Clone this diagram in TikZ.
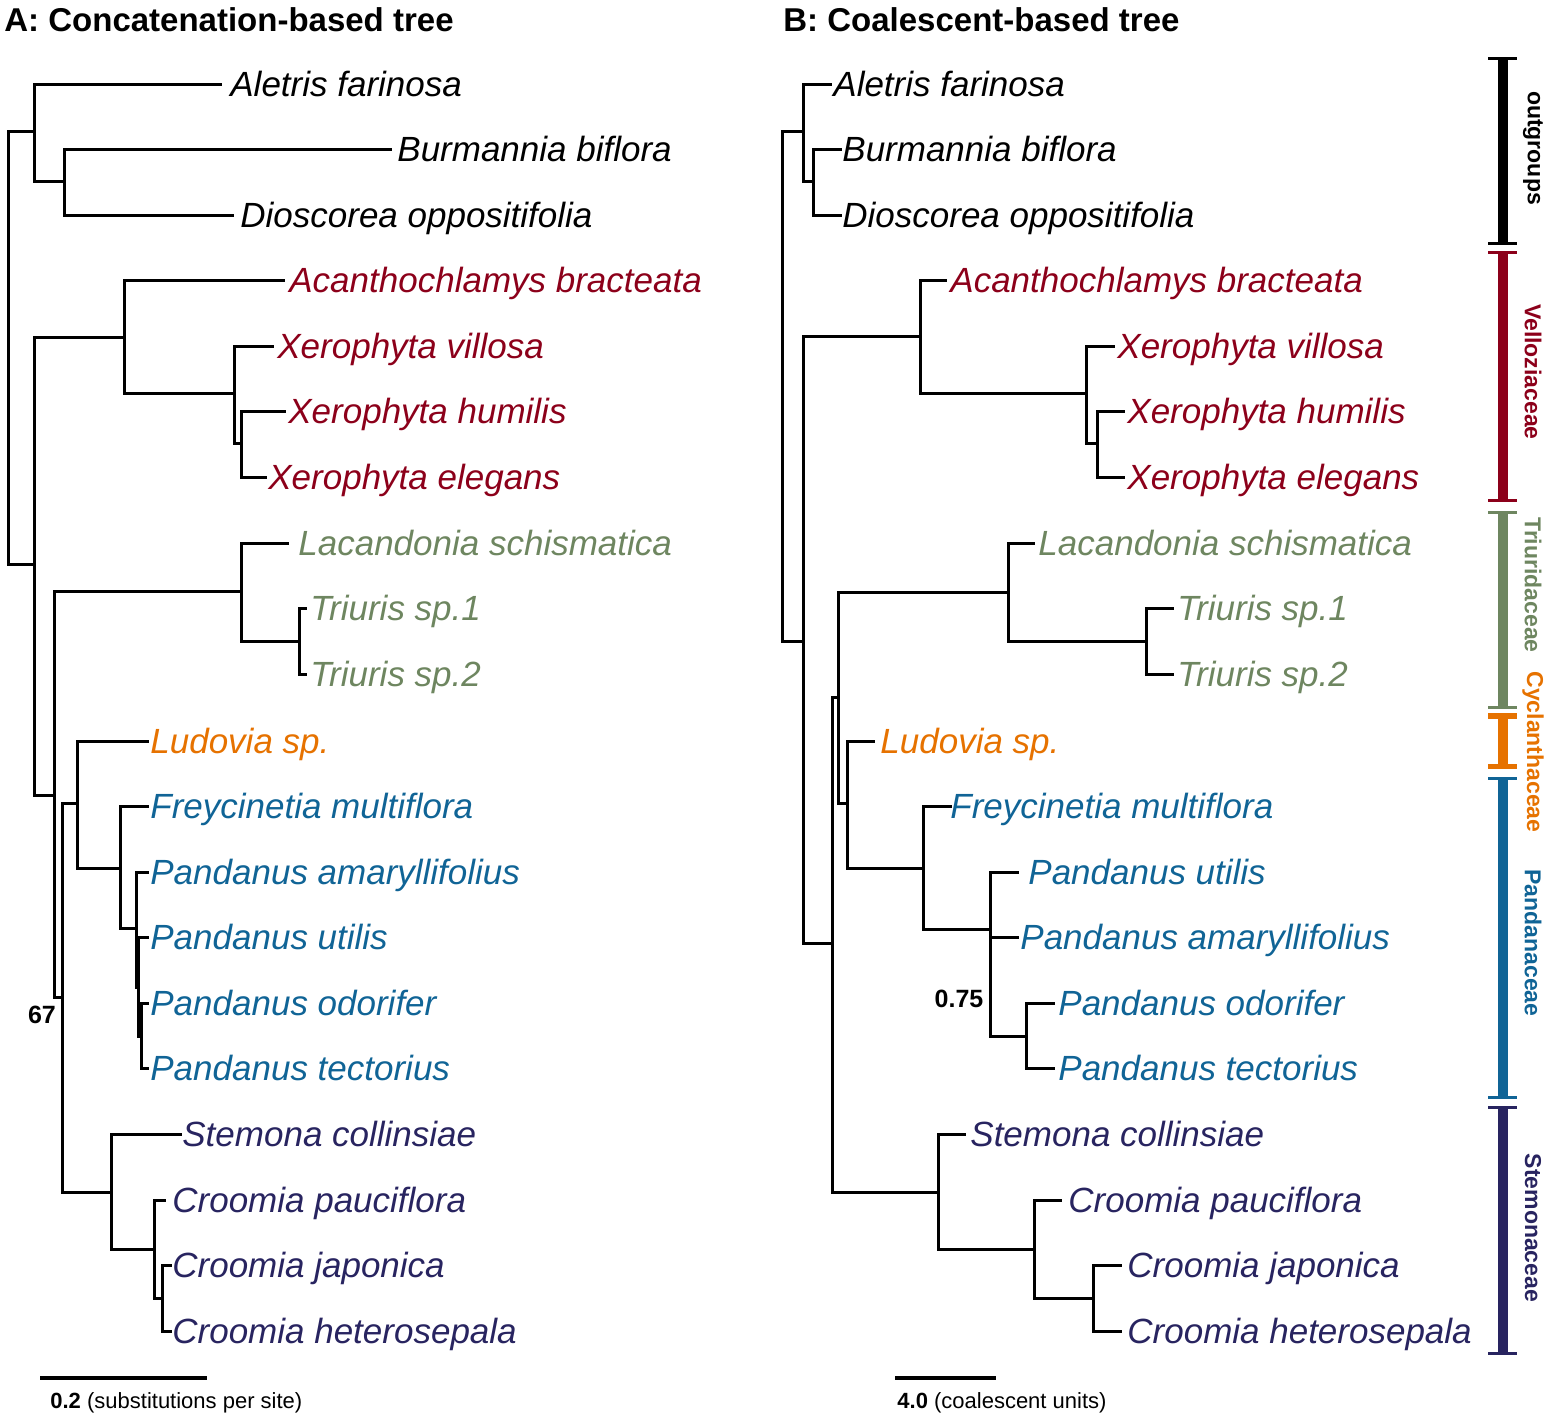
\documentclass[tikz,border=0pt]{standalone}
\usepackage{fontspec}
\setmainfont{Liberation Sans}
\definecolor{vel}{RGB}{140,0,26}
\definecolor{tri}{RGB}{110,134,96}
\definecolor{cyc}{RGB}{230,114,0}
\definecolor{pan}{RGB}{16,100,150}
\definecolor{ste}{RGB}{40,36,96}
\begin{document}
\begin{tikzpicture}[x=0.5pt,y=-0.5pt,
  br/.style={line width=1.5pt,line cap=rect,line join=miter},
  lf/.style={anchor=base west,inner sep=0pt,font=\fontsize{17.5}{20}\selectfont\itshape},
  ttl/.style={anchor=base west,inner sep=0pt,font=\fontsize{16.5}{19}\selectfont\bfseries},
  sup/.style={inner sep=0pt,font=\fontsize{12.5}{14}\selectfont\bfseries},
  fam/.style={rotate=-90,inner sep=0pt,font=\fontsize{11.5}{13}\selectfont\bfseries},
  fbar/.style={line width=5pt},
  fcap/.style={line width=1.5pt},
  sbar/.style={line width=2pt},
  stxt/.style={anchor=base west,inner sep=0pt,font=\fontsize{11}{13}\selectfont}]
\useasboundingbox (0,0) rectangle (1552,1416);

% titles
\node[ttl] (tA) at (4,32) {A: Concatenation-based tree};
\node[ttl] (tB) at (783,32) {B: Coalescent-based tree};

% ---------------- Tree A ----------------
\coordinate (Ar) at (8,348);
\coordinate (Ao) at (34,132);
\coordinate (Abd) at (64,182);
\coordinate (Ai) at (34,565);
\coordinate (Av) at (124,338);
\coordinate (Ax) at (234,394);
\coordinate (Axhe) at (241,444);
\coordinate (Ar1) at (54,795);
\coordinate (At) at (241,592);
\coordinate (Att) at (299,642);
\coordinate (Ar2) at (62,997);
\coordinate (Acp) at (77,803);
\coordinate (Ap) at (120,868);
\coordinate (App) at (136,928);
\coordinate (Ap2) at (138,987);
\coordinate (Ap3) at (141,1036);
\coordinate (As) at (111,1192);
\coordinate (Ac) at (154,1249);
\coordinate (Acjh) at (162,1298);

\coordinate (A1) at (220,85);
\coordinate (A2) at (390,150);
\coordinate (A3) at (232,216);
\coordinate (A4) at (283,281);
\coordinate (A5) at (272,347);
\coordinate (A6) at (284,412);
\coordinate (A7) at (265,478);
\coordinate (A8) at (287,544);
\coordinate (A9) at (305,609);
\coordinate (A10) at (305,675);
\coordinate (A11) at (147,741);
\coordinate (A12) at (147,806);
\coordinate (A13) at (147,872);
\coordinate (A14) at (147,937);
\coordinate (A15) at (147,1003);
\coordinate (A16) at (147,1068);
\coordinate (A17) at (180,1134);
\coordinate (A18) at (164,1200);
\coordinate (A19) at (170,1265);
\coordinate (A20) at (170,1331);

\draw[br] (Ar) |- (Ao);   \draw[br] (Ar) |- (Ai);
\draw[br] (Ao) |- (A1);   \draw[br] (Ao) |- (Abd);
\draw[br] (Abd) |- (A2);  \draw[br] (Abd) |- (A3);
\draw[br] (Ai) |- (Av);   \draw[br] (Ai) |- (Ar1);
\draw[br] (Av) |- (A4);   \draw[br] (Av) |- (Ax);
\draw[br] (Ax) |- (A5);   \draw[br] (Ax) |- (Axhe);
\draw[br] (Axhe) |- (A6); \draw[br] (Axhe) |- (A7);
\draw[br] (Ar1) |- (At);  \draw[br] (Ar1) |- (Ar2);
\draw[br] (At) |- (A8);   \draw[br] (At) |- (Att);
\draw[br] (Att) |- (A9);  \draw[br] (Att) |- (A10);
\draw[br] (Ar2) |- (Acp); \draw[br] (Ar2) |- (As);
\draw[br] (Acp) |- (A11); \draw[br] (Acp) |- (Ap);
\draw[br] (Ap) |- (A12);  \draw[br] (Ap) |- (App);
\draw[br] (App) |- (A13); \draw[br] (App) |- (Ap2);
\draw[br] (Ap2) |- (A14); \draw[br] (Ap2) |- (Ap3);
\draw[br] (Ap3) |- (A15); \draw[br] (Ap3) |- (A16);
\draw[br] (As) |- (A17);  \draw[br] (As) |- (Ac);
\draw[br] (Ac) |- (A18);  \draw[br] (Ac) |- (Acjh);
\draw[br] (Acjh) |- (A19);\draw[br] (Acjh) |- (A20);

\node[lf] (LA1) at (230,97) {Aletris farinosa};
\node[lf] (LA2) at (397,162) {Burmannia biflora};
\node[lf] (LA3) at (240,228) {Dioscorea oppositifolia};
\node[lf,text=vel] (LA4) at (289,293) {Acanthochlamys bracteata};
\node[lf,text=vel] (LA5) at (277,359) {Xerophyta villosa};
\node[lf,text=vel] (LA6) at (288,424) {Xerophyta humilis};
\node[lf,text=vel] (LA7) at (268,490) {Xerophyta elegans};
\node[lf,text=tri] (LA8) at (298,556) {Lacandonia schismatica};
\node[lf,text=tri] (LA9) at (310,621) {Triuris sp.1};
\node[lf,text=tri] (LA10) at (310,687) {Triuris sp.2};
\node[lf,text=cyc] (LA11) at (150,753) {Ludovia sp.};
\node[lf,text=pan] (LA12) at (150,818) {Freycinetia multiflora};
\node[lf,text=pan] (LA13) at (150,884) {Pandanus amaryllifolius};
\node[lf,text=pan] (LA14) at (150,949) {Pandanus utilis};
\node[lf,text=pan] (LA15) at (150,1015) {Pandanus odorifer};
\node[lf,text=pan] (LA16) at (150,1080) {Pandanus tectorius};
\node[lf,text=ste] (LA17) at (182,1146) {Stemona collinsiae};
\node[lf,text=ste] (LA18) at (172,1212) {Croomia pauciflora};
\node[lf,text=ste] (LA19) at (172,1277) {Croomia japonica};
\node[lf,text=ste] (LA20) at (172,1343) {Croomia heterosepala};

\node[sup] (s67) at (42,1015) {67};

% ---------------- Tree B ----------------
\coordinate (Br) at (782,387);
\coordinate (Bo) at (803,132);
\coordinate (Bbd) at (813,182);
\coordinate (Bi) at (803,642);
\coordinate (Bv) at (920,337);
\coordinate (Bx) at (1086,394);
\coordinate (Bxhe) at (1097,444);
\coordinate (Br1) at (832,943);
\coordinate (Br2) at (838,698);
\coordinate (Bt) at (1008,593);
\coordinate (Btt) at (1146,642);
\coordinate (Bcp) at (847,803);
\coordinate (Bp) at (923,868);
\coordinate (Bpp) at (990,929);
\coordinate (Bot) at (1026,1036);
\coordinate (Bs) at (938,1192);
\coordinate (Bc) at (1034,1249);
\coordinate (Bcjh) at (1093,1298);

\coordinate (B1) at (830,85);
\coordinate (B2) at (840,150);
\coordinate (B3) at (840,216);
\coordinate (B4) at (945,281);
\coordinate (B5) at (1113,347);
\coordinate (B6) at (1123,412);
\coordinate (B7) at (1123,478);
\coordinate (B8) at (1033,544);
\coordinate (B9) at (1172,609);
\coordinate (B10) at (1172,675);
\coordinate (B11) at (873,741);
\coordinate (B12) at (950,806);
\coordinate (B13) at (1017,872);
\coordinate (B14) at (1017,937);
\coordinate (B15) at (1053,1003);
\coordinate (B16) at (1053,1068);
\coordinate (B17) at (964,1134);
\coordinate (B18) at (1060,1200);
\coordinate (B19) at (1120,1265);
\coordinate (B20) at (1120,1331);

\draw[br] (Br) |- (Bo);   \draw[br] (Br) |- (Bi);
\draw[br] (Bo) |- (B1);   \draw[br] (Bo) |- (Bbd);
\draw[br] (Bbd) |- (B2);  \draw[br] (Bbd) |- (B3);
\draw[br] (Bi) |- (Bv);   \draw[br] (Bi) |- (Br1);
\draw[br] (Bv) |- (B4);   \draw[br] (Bv) |- (Bx);
\draw[br] (Bx) |- (B5);   \draw[br] (Bx) |- (Bxhe);
\draw[br] (Bxhe) |- (B6); \draw[br] (Bxhe) |- (B7);
\draw[br] (Br1) |- (Br2); \draw[br] (Br1) |- (Bs);
\draw[br] (Br2) |- (Bt);  \draw[br] (Br2) |- (Bcp);
\draw[br] (Bt) |- (B8);   \draw[br] (Bt) |- (Btt);
\draw[br] (Btt) |- (B9);  \draw[br] (Btt) |- (B10);
\draw[br] (Bcp) |- (B11); \draw[br] (Bcp) |- (Bp);
\draw[br] (Bp) |- (B12);  \draw[br] (Bp) |- (Bpp);
\draw[br] (Bpp) |- (B13); \draw[br] (Bpp) |- (B14); \draw[br] (Bpp) |- (Bot);
\draw[br] (Bot) |- (B15); \draw[br] (Bot) |- (B16);
\draw[br] (Bs) |- (B17);  \draw[br] (Bs) |- (Bc);
\draw[br] (Bc) |- (B18);  \draw[br] (Bc) |- (Bcjh);
\draw[br] (Bcjh) |- (B19);\draw[br] (Bcjh) |- (B20);

\node[lf] (LB1) at (833,97) {Aletris farinosa};
\node[lf] (LB2) at (842,162) {Burmannia biflora};
\node[lf] (LB3) at (842,228) {Dioscorea oppositifolia};
\node[lf,text=vel] (LB4) at (950,293) {Acanthochlamys bracteata};
\node[lf,text=vel] (LB5) at (1117,359) {Xerophyta villosa};
\node[lf,text=vel] (LB6) at (1127,424) {Xerophyta humilis};
\node[lf,text=vel] (LB7) at (1127,490) {Xerophyta elegans};
\node[lf,text=tri] (LB8) at (1038,556) {Lacandonia schismatica};
\node[lf,text=tri] (LB9) at (1177,621) {Triuris sp.1};
\node[lf,text=tri] (LB10) at (1177,687) {Triuris sp.2};
\node[lf,text=cyc] (LB11) at (880,753) {Ludovia sp.};
\node[lf,text=pan] (LB12) at (950,818) {Freycinetia multiflora};
\node[lf,text=pan] (LB13) at (1028,884) {Pandanus utilis};
\node[lf,text=pan] (LB14) at (1020,949) {Pandanus amaryllifolius};
\node[lf,text=pan] (LB15) at (1058,1015) {Pandanus odorifer};
\node[lf,text=pan] (LB16) at (1058,1080) {Pandanus tectorius};
\node[lf,text=ste] (LB17) at (970,1146) {Stemona collinsiae};
\node[lf,text=ste] (LB18) at (1068,1212) {Croomia pauciflora};
\node[lf,text=ste] (LB19) at (1127,1277) {Croomia japonica};
\node[lf,text=ste] (LB20) at (1127,1343) {Croomia heterosepala};

\node[sup] (s075) at (959,999) {0.75};

% ---------------- family bars ----------------
\draw[fbar,black] (1503,59) -- (1503,244);
\draw[fcap,black] (1488,59) -- (1517,59) (1488,244) -- (1517,244);
\node[fam,text=black] (fo) at (1533,148) {outgroups};

\draw[fbar,vel] (1503,253) -- (1503,501);
\draw[fcap,vel] (1488,253) -- (1517,253) (1488,501) -- (1517,501);
\node[fam,text=vel] (fv) at (1533,372) {Velloziaceae};

\draw[fbar,tri] (1503,513) -- (1503,708);
\draw[fcap,tri] (1488,513) -- (1517,513) (1488,708) -- (1517,708);
\node[fam,text=tri] (ft) at (1533,585) {Triuridaceae};

\draw[fbar,cyc] (1503,715) -- (1503,767);
\draw[fcap,line width=2.5pt,cyc] (1488,716) -- (1517,716) (1488,766) -- (1517,766);
\node[fam,text=cyc] (fc) at (1533,752) {Cyclanthaceae};

\draw[fbar,pan] (1503,778) -- (1503,1097);
\draw[fcap,pan] (1488,778) -- (1517,778) (1488,1097) -- (1517,1097);
\node[fam,text=pan] (fp) at (1533,943) {Pandanaceae};

\draw[fbar,ste] (1503,1107) -- (1503,1353);
\draw[fcap,ste] (1488,1107) -- (1517,1107) (1488,1353) -- (1517,1353);
\node[fam,text=ste] (fs) at (1533,1228) {Stemonaceae};

% ---------------- scale bars ----------------
\coordinate (sa1) at (40,1378);
\coordinate (sa2) at (207,1378);
\draw[sbar] (sa1) -- (sa2);
\node[stxt] (sat) at (50,1408) {\textbf{0.2} (substitutions per site)};
\coordinate (sb1) at (895,1378);
\coordinate (sb2) at (996,1378);
\draw[sbar] (sb1) -- (sb2);
\node[stxt] (sbt) at (897,1408) {\textbf{4.0} (coalescent units)};
\end{tikzpicture}
\end{document}
